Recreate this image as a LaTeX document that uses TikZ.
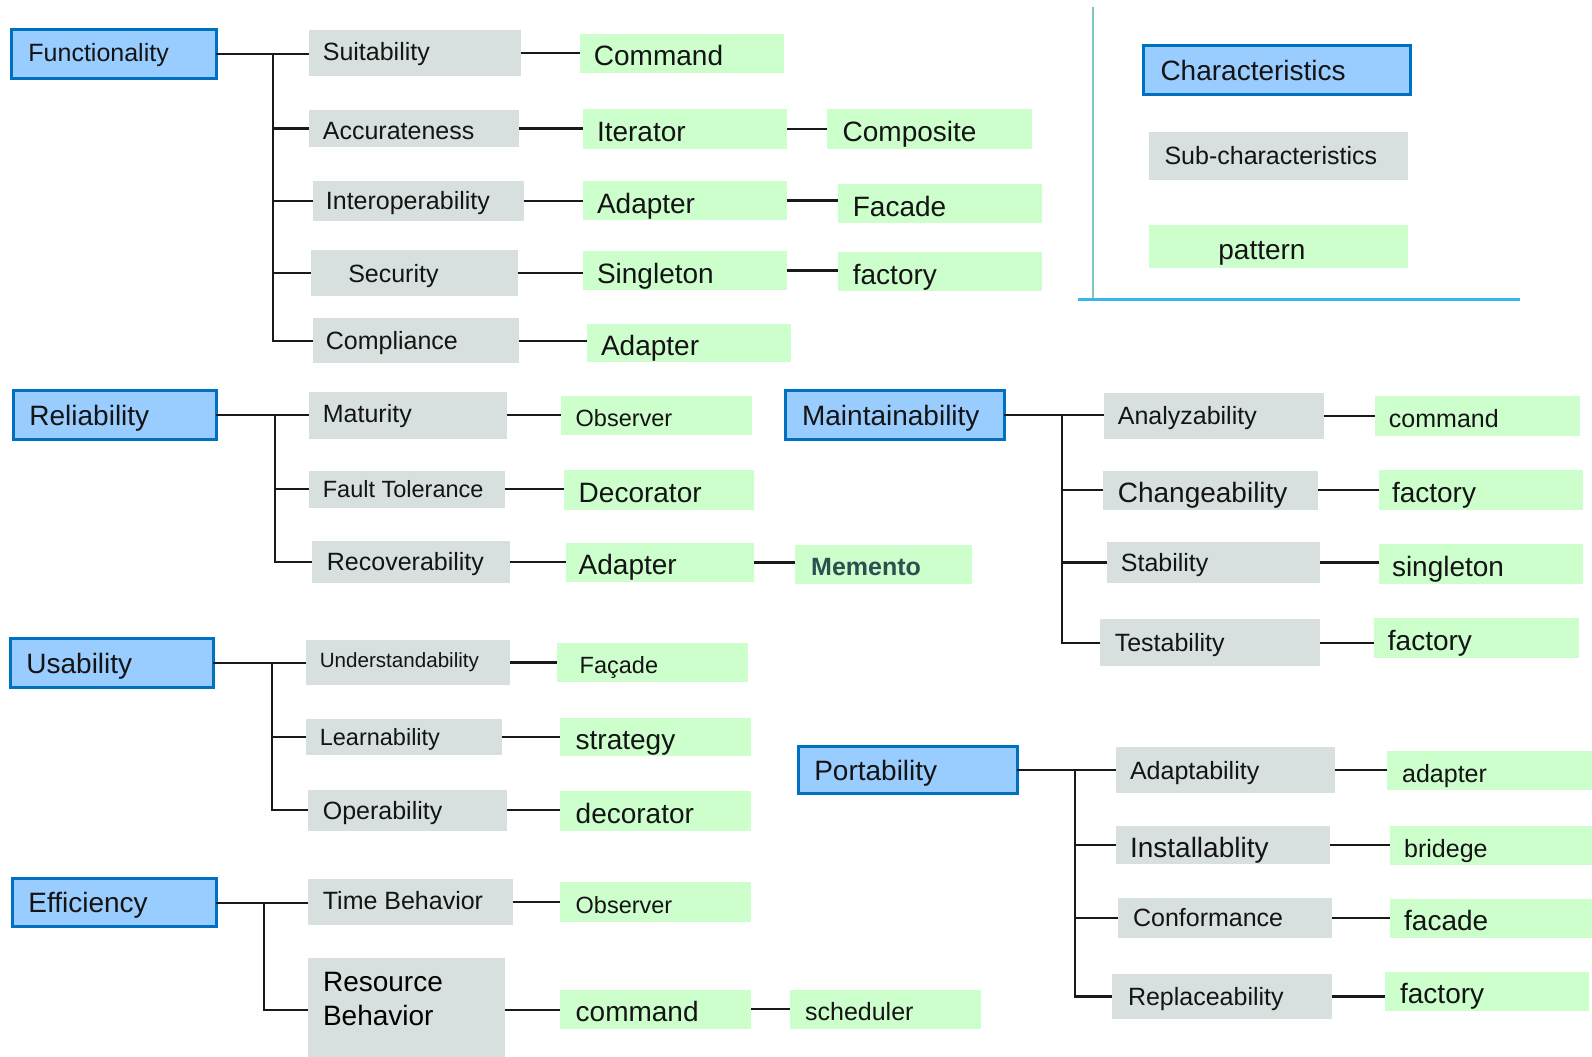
\documentclass[tikz,border=0pt]{standalone}
\usepackage{fontspec}
\setmainfont{Liberation Sans}

\definecolor{mainfill}{HTML}{99CCFF}
\definecolor{mainline}{HTML}{0070C0}
\definecolor{subfill}{HTML}{D7DFDF}
\definecolor{patfill}{HTML}{CCFFCC}
\definecolor{mementotext}{HTML}{2E4F4F}
\definecolor{legendv}{HTML}{80C4C4}
\definecolor{legendh}{HTML}{38B6EC}

% vertical offset of a box's text (set through the style key 'lift')
\def\bxlift{0pt}
% \bx{style}{name}{x1}{y1}{x2}{y2}{text x}{text}: a box spanning the two corners,
% its text starting at the given x
\newcommand\bx[8]{%
  \pgfmathsetmacro\bxw{((#5-#3)-2*(#7-#3))*1.0153}%
  \pgfmathsetmacro\bxcx{(#3+#5)/2}%
  \pgfmathsetmacro\bxcy{(#4+#6)/2}%
  \pgfmathsetmacro\bxwd{(#5-#3)*1.0153}%
  \pgfmathsetmacro\bxht{(#6-#4)*1.0153}%
  \node[#1, minimum width=\bxwd pt, minimum height=\bxht pt] (#2) at (\bxcx,\bxcy)
    {\raisebox{\bxlift}{\makebox[\bxw pt][l]{#8}}};%
}
% horizontal connector leaving the east side of #1 and ending at the west side of #2
\newcommand\hl[2]{\draw[conn] (#1.east) -- (#1.east -| #2.west);}

\tikzset{
  lift/.code={\def\bxlift{#1}},
  fA/.style={font=\fontsize{28}{33.5}\selectfont, text height=20pt},
  fB/.style={font=\fontsize{25}{30}\selectfont, text height=17.9pt},
  fC/.style={font=\fontsize{23.5}{28}\selectfont, text height=16.8pt},
  fD/.style={font=\fontsize{20.6}{25}\selectfont, text height=14.75pt},
  box/.style={rectangle, inner sep=0pt, outer sep=0pt, text depth=0pt, text=black!92},
  mainbox/.style={box, fill=mainfill, draw=mainline, line width=3pt},
  subbox/.style={box, fill=subfill},
  patbox/.style={box, fill=patfill, lift=-2.5pt},
  conn/.style={draw=black!90, line width=2.2pt},
}

\begin{document}
\begin{tikzpicture}[x=1.0153pt, y=-1.0153pt]
\useasboundingbox (0,0) rectangle (1568,1041);
\fill[white] (0,0) rectangle (1568,1041);

% ---------- characteristics ----------
\bx{mainbox,fB,lift=1.5pt}{fun}{11}{29}{213}{77}{28}{Functionality}
\bx{mainbox,fA}{rel}{13}{385}{213}{433}{29}{Reliability}
\bx{mainbox,fA}{usa}{10}{629}{210}{677}{26}{Usability}
\bx{mainbox,fA}{eff}{12}{865}{213}{913}{28}{Efficiency}
\bx{mainbox,fA}{mai}{774}{385}{989}{433}{790}{Maintainability}
\bx{mainbox,fA}{por}{786}{735}{1002}{782}{802}{Portability}

% ---------- sub-characteristics ----------
\bx{subbox,fB,lift=1.5pt}{suit}{304}{30}{513}{75}{318}{Suitability}
\bx{subbox,fB,lift=-2pt}{acc}{304}{108}{511}{145}{318}{Accurateness}
\bx{subbox,fB}{inter}{308}{178}{516}{218}{321}{Interoperability}
\bx{subbox,fB}{sec}{306}{246}{510}{292}{343}{Security}
\bx{subbox,fB}{compl}{308}{313}{511}{358}{321}{Compliance}
\bx{subbox,fB,lift=2pt}{mat}{304}{386}{499}{432}{318}{Maturity}
\bx{subbox,fC}{fault}{304}{464}{497}{500}{318}{Fault Tolerance}
\bx{subbox,fB}{recov}{307}{533}{502}{574}{322}{Recoverability}
\bx{subbox,fD,lift=2pt}{under}{301}{630}{502}{675}{315}{Understandability}
\bx{subbox,fC}{learn}{301}{708}{494}{744}{315}{Learnability}
\bx{subbox,fB}{oper}{303}{778}{499}{818}{318}{Operability}
\bx{subbox,fB,lift=1.5pt}{time}{303}{866}{505}{911}{318}{Time Behavior}
\bx{subbox,fA}{resb}{303}{944}{497}{1045}{318}{}
\node[fA, inner sep=0pt, anchor=base west] (resb1) at (318,977) {Resource};
\node[fA, inner sep=0pt, anchor=base west] (resb2) at (318,1010) {Behavior};
\bx{subbox,fB}{anal}{1087}{387}{1304}{432}{1101}{Analyzability}
\bx{subbox,fA,lift=-2pt}{chg}{1086}{464}{1298}{502}{1101}{Changeability}
\bx{subbox,fB}{stab}{1090}{534}{1300}{574}{1104}{Stability}
\bx{subbox,fB}{test}{1083}{610}{1300}{656}{1098}{Testability}
\bx{subbox,fB}{adap}{1099}{736}{1315}{781}{1113}{Adaptability}
\bx{subbox,fA,lift=-2pt}{inst}{1099}{814}{1310}{851}{1113}{Installablity}
\bx{subbox,fB}{conf}{1101}{884}{1312}{924}{1116}{Conformance}
\bx{subbox,fB}{repl}{1095}{959}{1312}{1004}{1111}{Replaceability}

% ---------- patterns ----------
\bx{patbox,fA}{cmd}{571}{33}{772}{72}{585}{Command}
\bx{patbox,fA}{iter}{574}{107}{775}{147}{588}{Iterator}
\bx{patbox,fA}{comp}{815}{107}{1016}{147}{830}{Composite}
\bx{patbox,fA}{adpa}{574}{178}{775}{217}{588}{Adapter}
\bx{patbox,fA}{faca}{825}{181}{1026}{220}{840}{Facade}
\bx{patbox,fA}{sing}{574}{247}{775}{286}{588}{Singleton}
\bx{patbox,fA}{fcta}{825}{248}{1026}{287}{840}{factory}
\bx{patbox,fA}{adpb}{578}{319}{779}{357}{592}{Adapter}
\bx{patbox,fC}{obsa}{553}{390}{741}{428}{567}{Observer}
\bx{patbox,fA}{deco}{555}{463}{743}{502}{570}{Decorator}
\bx{patbox,fA}{adpc}{557}{535}{743}{573}{570}{Adapter}
\bx{patbox,fB,font=\fontsize{25}{30}\selectfont\bfseries,text=mementotext}{meme}{783}{537}{957}{575}{799}{Memento}
\bx{patbox,fC}{facu}{549}{633}{737}{672}{571}{Façade}
\bx{patbox,fA}{strat}{552}{707}{740}{745}{567}{strategy}
\bx{patbox,fA}{decl}{552}{779}{740}{818}{567}{decorator}
\bx{patbox,fC}{obsb}{552}{869}{740}{908}{567}{Observer}
\bx{patbox,fA}{cmdb}{552}{975}{740}{1013}{567}{command}
\bx{patbox,fB}{sched}{778}{975}{966}{1013}{793}{scheduler}
\bx{patbox,fB}{cmdc}{1354}{390}{1556}{429}{1368}{command}
\bx{patbox,fA}{fctb}{1358}{463}{1559}{502}{1371}{factory}
\bx{patbox,fA}{sngl}{1358}{536}{1559}{575}{1371}{singleton}
\bx{patbox,fA}{fctc}{1353}{609}{1555}{648}{1367}{factory}
\bx{patbox,fB}{adpl}{1366}{740}{1575}{778}{1381}{adapter}
\bx{patbox,fB}{brid}{1369}{814}{1575}{852}{1383}{bridege}
\bx{patbox,fA}{facd}{1369}{885}{1575}{924}{1383}{facade}
\bx{patbox,fA}{fctd}{1364}{957}{1565}{996}{1379}{factory}

% ---------- key ----------
\coordinate (keytop) at (1077,7);
\coordinate (keycorner) at (1077,295);
\coordinate (keyleft) at (1062,295);
\coordinate (keyright) at (1497,295);
\draw[legendv, line width=2pt] (keytop) -- (keycorner);
\draw[legendh, line width=2.6pt] (keyleft) -- (keyright);
\bx{mainbox,fA}{keychr}{1126}{45}{1389}{93}{1143}{Characteristics}
\bx{subbox,fB}{keysub}{1132}{130}{1387}{177}{1147}{Sub-characteristics}
\bx{patbox,fA}{keypat}{1132}{222}{1387}{264}{1200}{pattern}

% ---------- trunk positions ----------
\coordinate (tfun) at (269,0);
\coordinate (trel) at (271,0);
\coordinate (tusa) at (268,0);
\coordinate (teff) at (260,0);
\coordinate (tmai) at (1046,0);
\coordinate (tpor) at (1059,0);

% Functionality
\hl{fun}{suit}
\draw[conn] (fun.east -| tfun) |- (compl.west);
\foreach \n in {acc,inter,sec} \draw[conn] (\n.west -| tfun) -- (\n.west);
\hl{suit}{cmd}
\hl{acc}{iter}
\hl{iter}{comp}
\hl{inter}{adpa}
\hl{adpa}{faca}
\hl{sec}{sing}
\hl{sing}{fcta}
\hl{compl}{adpb}

% Reliability
\hl{rel}{mat}
\draw[conn] (rel.east -| trel) |- (recov.west);
\draw[conn] (fault.west -| trel) -- (fault.west);
\hl{mat}{obsa}
\hl{fault}{deco}
\hl{recov}{adpc}
\hl{adpc}{meme}

% Usability
\hl{usa}{under}
\draw[conn] (usa.east -| tusa) |- (oper.west);
\draw[conn] (learn.west -| tusa) -- (learn.west);
\hl{under}{facu}
\hl{learn}{strat}
\hl{oper}{decl}

% Efficiency
\hl{eff}{time}
\draw[conn] (eff.east -| teff) |- (resb.west);
\hl{time}{obsb}
\hl{resb}{cmdb}
\hl{cmdb}{sched}

% Maintainability
\hl{mai}{anal}
\draw[conn] (mai.east -| tmai) |- (test.west);
\foreach \n in {chg,stab} \draw[conn] (\n.west -| tmai) -- (\n.west);
\hl{anal}{cmdc}
\hl{chg}{fctb}
\hl{stab}{sngl}
\hl{test}{fctc}

% Portability
\hl{por}{adap}
\draw[conn] (por.east -| tpor) |- (repl.west);
\foreach \n in {inst,conf} \draw[conn] (\n.west -| tpor) -- (\n.west);
\hl{adap}{adpl}
\hl{inst}{brid}
\hl{conf}{facd}
\hl{repl}{fctd}
\end{tikzpicture}
\end{document}
